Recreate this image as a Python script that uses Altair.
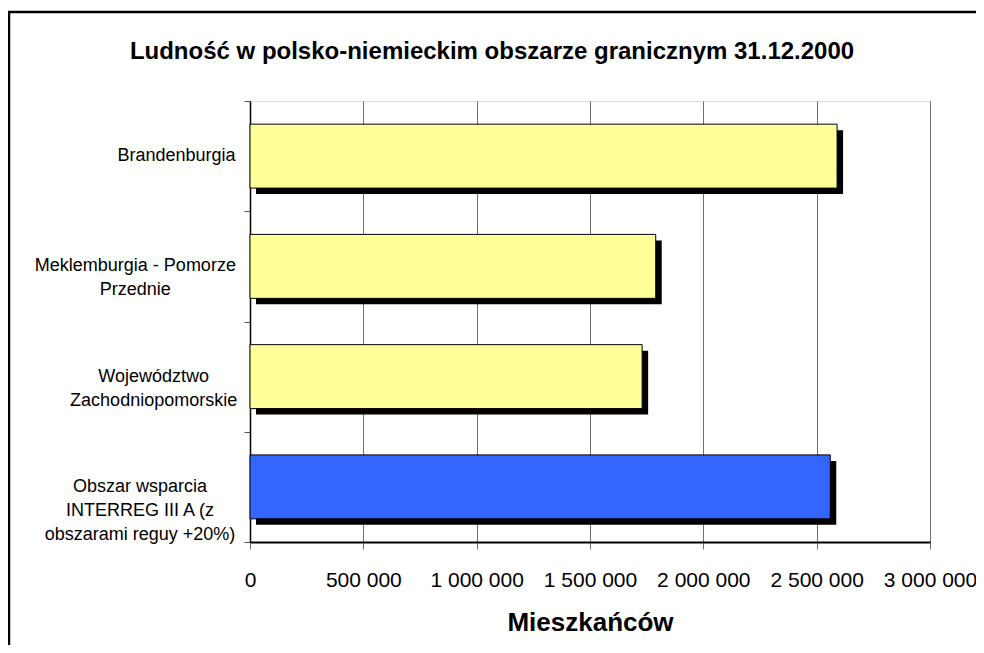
import altair as alt
import pandas as pd

categories = [
    "Brandenburgia",
    "Meklemburgia - Pomorze\nPrzednie",
    "Województwo\nZachodniopomorskie",
    "Obszar wsparcia\nINTERREG III A (z\nobszarami reguy +20%)",
]
values = [2590000, 1790000, 1730000, 2560000]
bar_colors = ["#FFFF99", "#FFFF99", "#FFFF99", "#3366FF"]
x_ticks = [0, 500000, 1000000, 1500000, 2000000, 2500000, 3000000]

title_text = "Ludność w polsko-niemieckim obszarze granicznym 31.12.2000"
x_title = "Mieszkańców"

df = pd.DataFrame({"kategoria": categories, "wartosc": values, "kolor": bar_colors})

FONT = "Liberation Sans"
W, H = 680, 441

y_enc = alt.Y(
    "kategoria:N",
    sort=categories,
    scale=alt.Scale(paddingInner=0, paddingOuter=0),
    axis=alt.Axis(
        title=None,
        labels=False,
        tickBand="extent",
        tickSize=6,
        tickColor="#555555",
        tickWidth=1,
        domainColor="black",
        domainWidth=1.5,
        grid=False,
    ),
)

x_enc = alt.X(
    "wartosc:Q",
    scale=alt.Scale(domain=[0, 3000000], nice=False),
    axis=alt.Axis(
        values=x_ticks,
        title=x_title,
        titleFont=FONT,
        titleFontSize=26,
        titleFontWeight="bold",
        titleColor="black",
        titlePadding=19,
        labelExpr="replace(format(datum.value, ','), regexp(',', 'g'), ' ')",
        labelFont=FONT,
        labelFontSize=21,
        labelColor="black",
        labelPadding=20,
        labelFlush=False,
        labelOverlap=False,
        grid=True,
        gridColor="#707070",
        gridWidth=1,
        tickSize=7,
        tickColor="#707070",
        domainColor="black",
        domainWidth=2,
    ),
)

shadow = alt.Chart(df).mark_bar(
    color="black", height={"band": 0.58},
    xOffset=6, x2Offset=6, yOffset=6, y2Offset=6,
).encode(x=x_enc, y=y_enc)

bars = alt.Chart(df).mark_bar(
    stroke="black", strokeWidth=1, height={"band": 0.58},
).encode(
    x=x_enc,
    y=y_enc,
    color=alt.Color("kolor:N", scale=None, legend=None),
)

# category labels: multi-line blocks, lines centred, blocks right-aligned
# (block centre estimated from the longest line at ~9.15 px per character)
labels = alt.Chart(df).transform_calculate(
    lx="-14 - 4.575 * max(length(split(datum.kategoria, '\\n')[0]), "
       "length(split(datum.kategoria, '\\n')[1] || ''), "
       "length(split(datum.kategoria, '\\n')[2] || ''))"
).mark_text(
    align="center", baseline="middle", lineBreak="\n",
    font=FONT, fontSize=18, lineHeight=24, color="black",
).encode(
    x=alt.X("lx:Q", scale=None, axis=None),
    y=y_enc,
    text="kategoria:N",
)

# outer chart-area frame (decoration)
frame = alt.Chart(alt.Data(values=[{"a": 1}])).mark_rect(
    filled=False, stroke="black", strokeWidth=2.5,
).encode(
    x=alt.value(-241), x2=alt.value(780),
    y=alt.value(-89), y2=alt.value(580),
)

# chart title, centred in the outer frame
title = alt.Chart(alt.Data(values=[{"a": 1}])).mark_text(
    text=title_text, font=FONT, fontSize=24, fontWeight="bold", color="black",
    align="center", baseline="middle",
).encode(x=alt.value(242), y=alt.value(-49))

chart = alt.layer(frame, shadow, bars, labels, title).properties(
    width=W,
    height=H,
    padding={"left": 242, "top": 93, "right": 46, "bottom": 103},
    autosize=alt.AutoSizeParams(type="none"),
).configure_view(
    stroke="black", strokeWidth=1.5,
).configure(background="white")

chart.save("out.html", embed_options={"renderer": "svg", "actions": False})
